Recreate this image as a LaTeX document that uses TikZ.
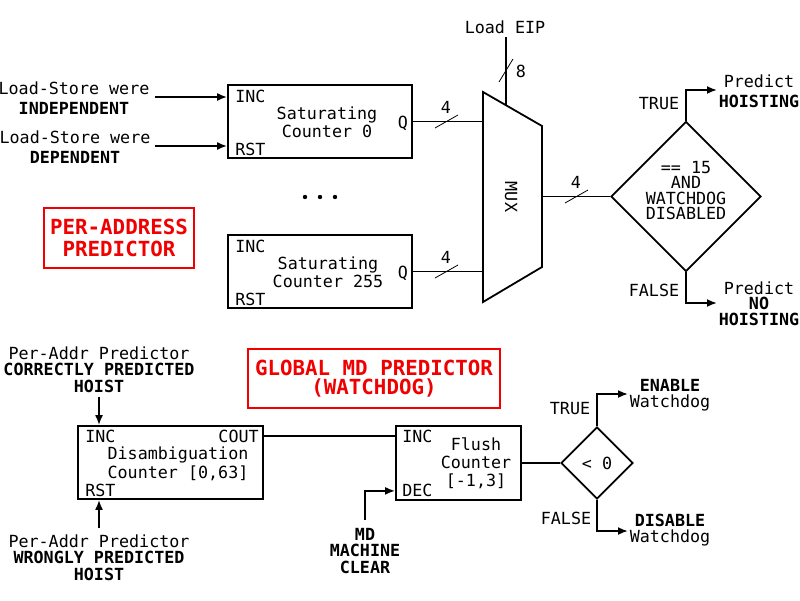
\documentclass[tikz,border=0pt]{standalone}
\usepackage{fontspec}
\setmainfont{DejaVu Sans Mono}
\usetikzlibrary{shapes.geometric,arrows.meta}
\definecolor{tred}{RGB}{240,0,0}
\begin{document}
\begin{tikzpicture}[x=1pt,y=-1pt,
  txt/.style={inner sep=0pt, align=center, font=\fontsize{16.7}{19}\selectfont},
  blk/.style={draw, line width=1.8pt, inner sep=0pt},
  ttl/.style={draw=tred, line width=1.6pt, text=tred, inner sep=0pt, align=center, font=\fontsize{20.8}{21.5}\selectfont\bfseries},
  wire/.style={line width=1.8pt},
  arr/.style={line width=1.8pt, -{Latex[length=10pt,width=8pt]}},
  bus/.style={line width=0.8pt},
  dia/.style={draw, diamond, line width=1.8pt, inner sep=0pt},
]
\useasboundingbox (0,0) rectangle (800,600);

% ---------- per-address predictor ----------
\node[blk, minimum width=184pt, minimum height=73pt] (c0) at (320,121.5) {};
\node[blk, minimum width=184pt, minimum height=73pt] (c255) at (320,271.5) {};
\node[txt, anchor=north west, xshift=8pt, yshift=-6pt] (c0inc) at (c0.north west) {INC};
\node[txt, anchor=south west, xshift=8pt, yshift=3pt] (c0rst) at (c0.south west) {RST};
\node[txt, font=\fontsize{16.7}{18}\selectfont] (c0t) at (327,122) {Saturating\\Counter 0};
\node[txt] (c0q) at (403,123) {Q};
\node[txt, anchor=north west, xshift=8pt, yshift=-6pt] (c255inc) at (c255.north west) {INC};
\node[txt, anchor=south west, xshift=8pt, yshift=3pt] (c255rst) at (c255.south west) {RST};
\node[txt, font=\fontsize{16.7}{18}\selectfont] (c255t) at (328,272.5) {Saturating\\Counter 255};
\node[txt] (c255q) at (403,273) {Q};

\node[txt, font=\fontsize{16.7}{20}\selectfont] (ls1) at (74,98) {Load-Store were\\\textbf{INDEPENDENT}};
\node[txt, font=\fontsize{16.7}{20}\selectfont] (ls2) at (75,147.5) {Load-Store were\\\textbf{DEPENDENT}};
\coordinate (a1) at (155,97);
\coordinate (a2) at (155,146);
\draw[arr] (a1) -- (a1 -| c0.west);
\draw[arr] (a2) -- (a2 -| c0.west);

\fill (305,197) circle (2.2pt) (320,197) circle (2.2pt) (335,197) circle (2.2pt);

\node[ttl, minimum width=150pt, minimum height=60pt] (pap) at (119,238) {PER-ADDRESS\\PREDICTOR};

% MUX
\coordinate (mA) at (483,92);
\coordinate (mB) at (542,126);
\coordinate (mC) at (542,267);
\coordinate (mD) at (483,302);
\draw[line width=1.8pt, line join=miter] (mA) -- (mB) -- (mC) -- (mD) -- cycle;
\node[txt, rotate=-90] (muxl) at (511,197) {MUX};
\coordinate (min0) at (483,121.5);
\coordinate (min1) at (483,271.5);
\coordinate (mout) at (542,196.5);
\coordinate (meip) at (506,105.4);

\draw[wire] (c0.east) -- (min0);
\draw[wire] (c255.east) -- (min1);
\draw[bus] (446.5,121.5) +(-11.5,6.5) -- +(11.5,-6.5);
\draw[bus] (446.5,271.5) +(-11.5,6.5) -- +(11.5,-6.5);
\node[txt] (b4a) at (446,107) {4};
\node[txt] (b4b) at (446,257) {4};

\node[txt] (eip) at (505,27) {Load EIP};
\coordinate (eipt) at (506,37);
\draw[wire] (eipt) -- (meip);
\draw[bus] (506,70.5) +(-7,11.5) -- +(7,-11.5);
\node[txt] (b8) at (521,71) {8};

\node[dia, minimum width=150pt, minimum height=150pt] (d1) at (686,196.5) {};
\node[txt, font=\fontsize{16.7}{15.3}\selectfont] (d1t) at (686,190.5) {== 15\\AND\\WATCHDOG\\DISABLED};
\draw[wire] (mout) -- (d1.west);
\draw[bus] (576.5,196.5) +(-11.5,6.5) -- +(11.5,-6.5);
\node[txt] (b4c) at (576,182) {4};

\coordinate (t1) at (717,90);
\coordinate (f1) at (717,303);
\draw[arr] (d1.north) |- (t1);
\draw[arr] (d1.south) |- (f1);
\node[txt] (tr1) at (659,103.5) {TRUE};
\node[txt] (fa1) at (654,290) {FALSE};
\node[txt, font=\fontsize{16.7}{20}\selectfont] (ph) at (759,91) {Predict\\\textbf{HOISTING}};
\node[txt, font=\fontsize{16.7}{15.3}\selectfont] (pnh) at (759,303.5) {Predict\\\textbf{NO}\\\textbf{HOISTING}};

% ---------- global MD predictor ----------
\node[ttl, minimum width=252pt, minimum height=59pt, font=\fontsize{20.8}{19}\selectfont\bfseries] (gmd) at (374,378.5) {GLOBAL MD PREDICTOR\\(WATCHDOG)};

\node[blk, minimum width=185pt, minimum height=73pt] (dis) at (170.5,462.5) {};
\node[txt, anchor=north west, xshift=8pt, yshift=-4.5pt] (disinc) at (dis.north west) {INC};
\node[txt, anchor=north east, xshift=-5pt, yshift=-4.5pt] (discout) at (dis.north east) {COUT};
\node[txt, anchor=south west, xshift=8pt, yshift=3pt] (disrst) at (dis.south west) {RST};
\node[txt] (dist) at (178,464) {Disambiguation\\Counter [0,63]};

\node[txt, font=\fontsize{16.7}{16.7}\selectfont] (pa1) at (99,369.5) {Per-Addr Predictor\\\textbf{CORRECTLY PREDICTED}\\\textbf{HOIST}};
\node[txt, font=\fontsize{16.7}{16.5}\selectfont] (pa2) at (99,557.5) {Per-Addr Predictor\\\textbf{WRONGLY PREDICTED}\\\textbf{HOIST}};
\coordinate (pa1e) at (99,397);
\coordinate (pa2e) at (99,528);
\draw[arr] (pa1e) -- (pa1e |- dis.north);
\draw[arr] (pa2e) -- (pa2e |- dis.south);

\node[blk, minimum width=125pt, minimum height=74pt] (fl) at (458.5,463) {};
\node[txt, anchor=north west, xshift=7pt, yshift=-5pt] (flinc) at (fl.north west) {INC};
\node[txt, anchor=south west, xshift=7pt, yshift=3.5pt] (fldec) at (fl.south west) {DEC};
\node[txt, font=\fontsize{16.7}{18}\selectfont] (flt) at (476,463) {Flush\\Counter\\{[-1,3]}};

\draw[wire] (discout.east -| dis.east) -- (discout.east -| fl.west);

\node[txt, font=\fontsize{16.7}{16.7}\selectfont] (mdc) at (365,551) {\textbf{MD}\\\textbf{MACHINE}\\\textbf{CLEAR}};
\coordinate (mde) at (365,520);
\draw[arr] (mde) |- (fldec.west -| fl.west);

\node[dia, minimum width=72pt, minimum height=72pt] (d2) at (597,463) {};
\node[txt] (d2t) at (597,463) {< 0};
\draw[wire] (fl.east) -- (d2.west);

\coordinate (t2) at (628,394);
\coordinate (f2) at (628,531);
\draw[arr] (d2.north) |- (t2);
\draw[arr] (d2.south) |- (f2);
\node[txt] (tr2) at (570,408.5) {TRUE};
\node[txt] (fa2) at (566,518) {FALSE};
\node[txt, font=\fontsize{16.7}{16}\selectfont] (en) at (670,395) {\textbf{ENABLE}\\Watchdog};
\node[txt, font=\fontsize{16.7}{16}\selectfont] (di) at (670,530.5) {\textbf{DISABLE}\\Watchdog};
\end{tikzpicture}
\end{document}
